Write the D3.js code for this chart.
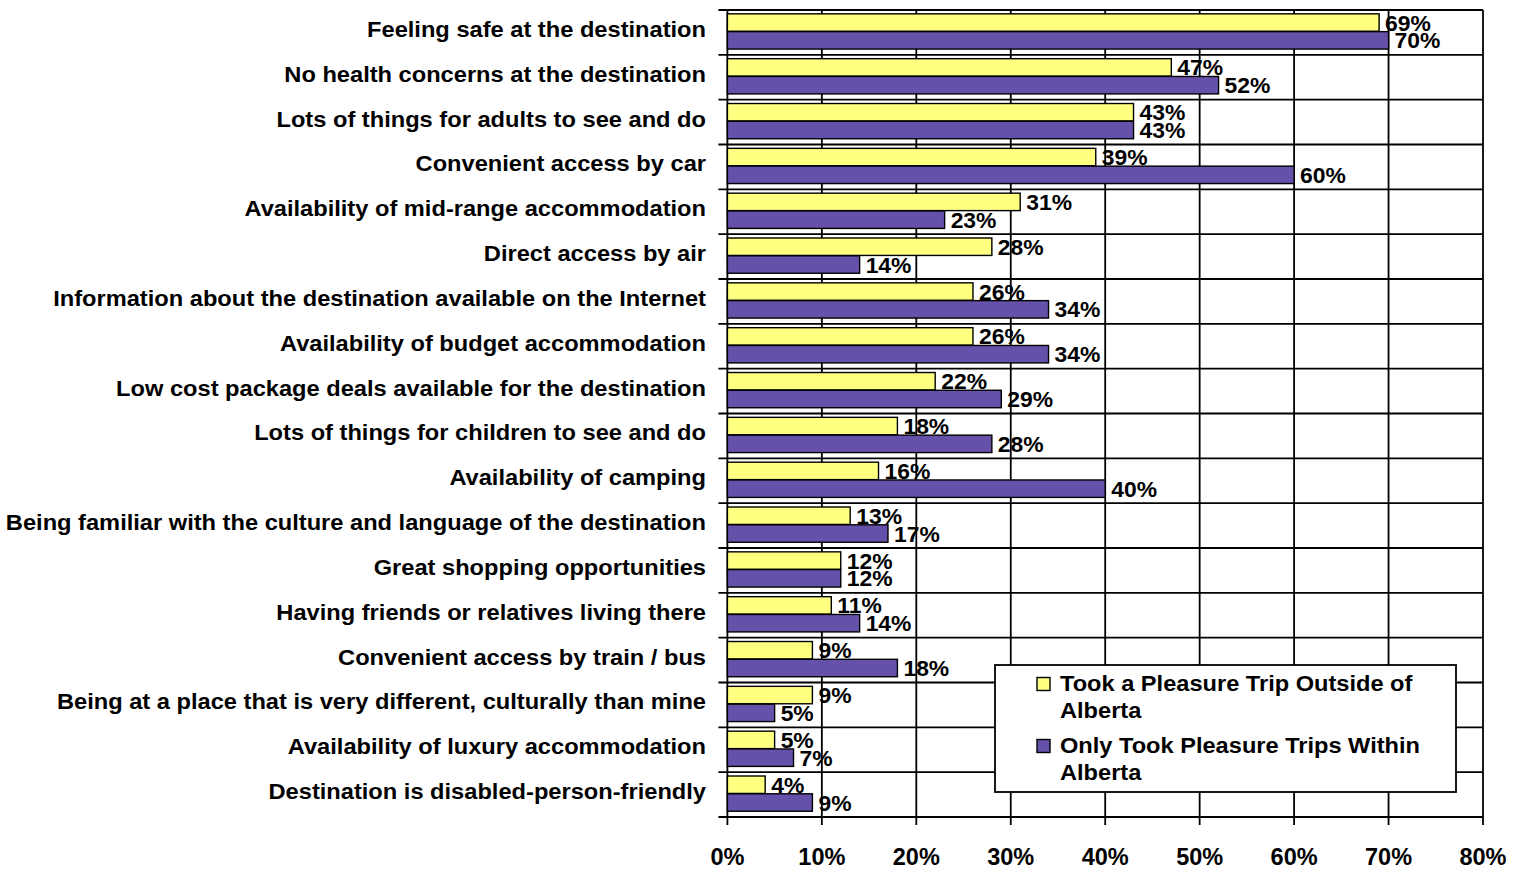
<!DOCTYPE html>
<html>
<head>
<meta charset="utf-8">
<script src="https://cdn.jsdelivr.net/npm/d3@7"></script>
<style>
  html, body { margin: 0; padding: 0; background: #fff; }
  svg { display: block; }
  text { font-family: "Liberation Sans", Arial, sans-serif; font-weight: bold; fill: #000; }
</style>
</head>
<body>
<svg id="chart" width="1520" height="869"></svg>
<script>
const categories = [
  "Feeling safe at the destination",
  "No health concerns at the destination",
  "Lots of things for adults to see and do",
  "Convenient access by car",
  "Availability of mid-range accommodation",
  "Direct access by air",
  "Information about the destination available on the Internet",
  "Availability of budget accommodation",
  "Low cost package deals available for the destination",
  "Lots of things for children to see and do",
  "Availability of camping",
  "Being familiar with the culture and language of the destination",
  "Great shopping opportunities",
  "Having friends or relatives living there",
  "Convenient access by train / bus",
  "Being at a place that is very different, culturally than mine",
  "Availability of luxury accommodation",
  "Destination is disabled-person-friendly"
];
const seriesNames = ["Took a Pleasure Trip Outside of Alberta", "Only Took Pleasure Trips Within Alberta"];
const outsideValues = [69, 47, 43, 39, 31, 28, 26, 26, 22, 18, 16, 13, 12, 11, 9, 9, 5, 4];
const withinValues  = [70, 52, 43, 60, 23, 14, 34, 34, 29, 28, 40, 17, 12, 14, 18, 5, 7, 9];
const xTicks = [0, 10, 20, 30, 40, 50, 60, 70, 80];
const legendLines = [["Took a Pleasure Trip Outside of", "Alberta"], ["Only Took Pleasure Trips Within", "Alberta"]];
const colors = ["#FFFF80", "#6651AA"];

(function () {
const svg = d3.select("#chart");
const pLeft = 727.4, pRight = 1483, pTop = 10, pBottom = 817;

const x = d3.scaleLinear().domain([0, 80]).range([pLeft, pRight]);
const y = d3.scaleBand().domain(categories).range([pTop, pBottom]).padding(0);
const sub = d3.scaleBand().domain([0, 1]).range([0, y.bandwidth()]).paddingInner(0.02).paddingOuter(0.27).align(0.4);

const series = [outsideValues, withinValues];

// vertical gridlines
svg.append("g").selectAll("line").data(xTicks).join("line")
  .attr("x1", d => x(d)).attr("x2", d => x(d))
  .attr("y1", pTop).attr("y2", pBottom + 8)
  .attr("stroke", "#000").attr("stroke-width", 1.8);

// horizontal gridlines (category boundaries)
const bounds = categories.map(c => y(c)).concat([pBottom]);
svg.append("g").selectAll("line").data(bounds).join("line")
  .attr("x1", pLeft - 9).attr("x2", pRight)
  .attr("y1", d => d).attr("y2", d => d)
  .attr("stroke", "#000").attr("stroke-width", 1.8);

// bars
series.forEach((vals, si) => {
  svg.append("g").selectAll("rect").data(vals).join("rect")
    .attr("x", x(0))
    .attr("y", (d, i) => y(categories[i]) + sub(si))
    .attr("width", d => x(d) - x(0))
    .attr("height", sub.bandwidth())
    .attr("fill", colors[si])
    .attr("stroke", "#000").attr("stroke-width", 1.4);
});

// data labels
series.forEach((vals, si) => {
  svg.append("g").selectAll("text").data(vals).join("text")
    .attr("transform", (d, i) => `translate(${x(d) + 6},${y(categories[i]) + sub(si) + sub.bandwidth() / 2 + 8}) scale(1.04,1)`)
    .attr("font-size", 22)
    .text(d => Math.round(d) + "%");
});

// category labels
svg.append("g").selectAll("text").data(categories).join("text")
  .attr("transform", d => `translate(706,${y(d) + y.bandwidth() / 2 + 4.5}) scale(1.1,1)`)
  .attr("text-anchor", "end")
  .attr("font-size", 21.5)
  .text(d => d);

// x tick labels
svg.append("g").selectAll("text").data(xTicks).join("text")
  .attr("x", d => x(d)).attr("y", 865)
  .attr("text-anchor", "middle")
  .attr("font-size", 23.5)
  .text(d => d + "%");

// legend
const lg = svg.append("g");
lg.append("rect").attr("x", 995).attr("y", 665).attr("width", 461).attr("height", 127)
  .attr("fill", "#fff").attr("stroke", "#000").attr("stroke-width", 1.8);
legendLines.forEach((lines, i) => {
  const by = 690.5 + i * 62;
  lg.append("rect").attr("x", 1037).attr("y", by - 13).attr("width", 13).attr("height", 13)
    .attr("fill", colors[i]).attr("stroke", "#000").attr("stroke-width", 1.4);
  lines.forEach((t, j) => {
    lg.append("text").attr("transform", `translate(1060,${by + j * 27.5}) scale(1.05,1)`)
      .attr("font-size", 22.5).text(t);
  });
});
})();
</script>
</body>
</html>
